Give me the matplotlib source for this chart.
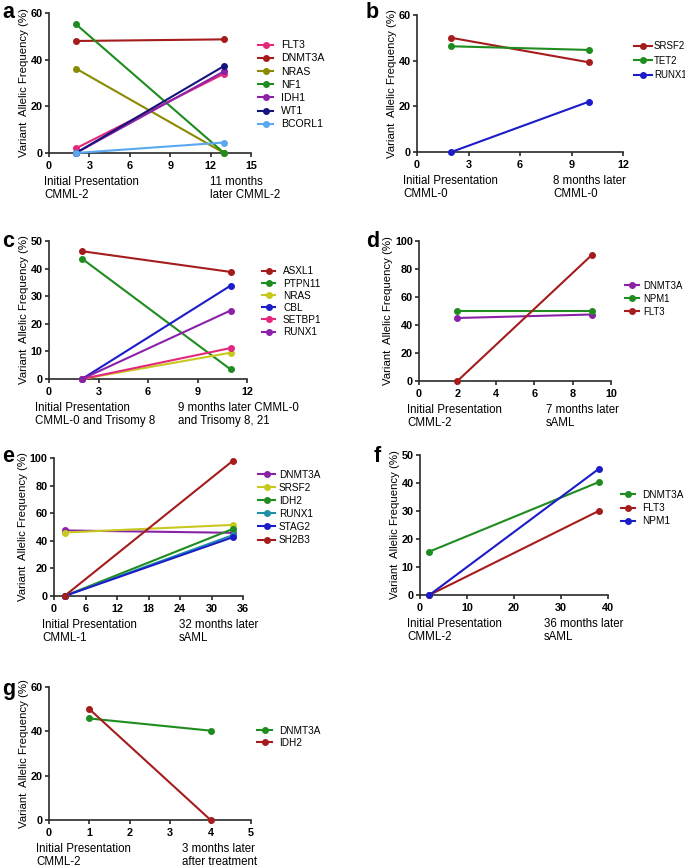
import matplotlib
matplotlib.use("Agg")
import matplotlib.pyplot as plt

plt.rcParams['font.family'] = ['Liberation Sans', 'DejaVu Sans']

W, H = 685, 866

DRED = '#a51c1c'
GREEN = '#1f8c1f'
PINK = '#e4287c'
OLIVE = '#8c8a00'
PURPLE = '#8a22a8'
NAVY = '#14147c'
LBLUE = '#5aa8f0'
BLUE = '#1c1cc8'
YELLOW = '#c8c81e'
TEAL = '#2090a8'

# panel a
a_x = [2, 13]
a_genes = ['FLT3', 'DNMT3A', 'NRAS', 'NF1', 'IDH1', 'WT1', 'BCORL1']
a_vals = [[2, 34], [48, 48.7], [36.2, 0], [55.2, 0], [0, 35], [0, 37.3], [0, 4.5]]
a_cols = [PINK, DRED, OLIVE, GREEN, PURPLE, NAVY, LBLUE]

# panel b
b_x = [2, 10]
b_genes = ['SRSF2', 'TET2', 'RUNX1']
b_vals = [[50, 39.3], [46.3, 44.7], [0, 22]]
b_cols = [DRED, GREEN, BLUE]

# panel c
c_x = [2, 11]
c_genes = ['ASXL1', 'PTPN11', 'NRAS', 'CBL', 'SETBP1', 'RUNX1']
c_vals = [[46.3, 38.8], [43.6, 3.5], [0, 9.5], [0, 33.8], [0, 11.2], [0, 24.8]]
c_cols = [DRED, GREEN, YELLOW, BLUE, PINK, PURPLE]

# panel d
d_x = [2, 9]
d_genes = ['DNMT3A', 'NPM1', 'FLT3']
d_vals = [[45, 47.5], [50, 50], [0, 90]]
d_cols = [PURPLE, GREEN, DRED]

# panel e
e_x = [2, 34]
e_genes = ['DNMT3A', 'SRSF2', 'IDH2', 'RUNX1', 'STAG2', 'SH2B3']
e_vals = [[47.5, 45.8], [46, 51.5], [0, 48.5], [0, 44], [0, 42.5], [0, 97.8]]
e_cols = [PURPLE, YELLOW, GREEN, TEAL, BLUE, DRED]

# panel f
f_x = [2, 38]
f_genes = ['DNMT3A', 'FLT3', 'NPM1']
f_vals = [[15.5, 40.3], [0, 30], [0, 45]]
f_cols = [GREEN, DRED, BLUE]

# panel g
g_x = [1, 4]
g_genes = ['DNMT3A', 'IDH2']
g_vals = [[45.8, 40.3], [50, 0]]
g_cols = [GREEN, DRED]

fig = plt.figure(figsize=(W / 100, H / 100), dpi=100)
PT = 0.72  # points per pixel at 100 dpi


def add_ax(x0, y0, x1, y1):
    return fig.add_axes([x0 / W, 1 - y1 / H, (x1 - x0) / W, (y1 - y0) / H])


def panel(rect, letter, letter_xy, xs, genes, vals, cols, xlim, xticks, ylim, yticks,
          left_txt, left_off, right_txt, right_frac, leg, leg_fs=7.2):
    ax = add_ax(*rect)
    for g, v, c in zip(genes, vals, cols):
        ax.plot(xs, v, '-o', color=c, lw=1.5, ms=4, label=g, clip_on=False, zorder=3)
    ax.set_xlim(*xlim)
    ax.set_ylim(*ylim)
    ax.set_xticks(xticks)
    ax.set_yticks(yticks)
    for s in ['top', 'right']:
        ax.spines[s].set_visible(False)
    for s in ['left', 'bottom']:
        ax.spines[s].set_linewidth(1.2)
        ax.spines[s].set_color('#2a2a2a')
    ax.tick_params(direction='out', length=3, width=1.2, color='#2a2a2a',
                   labelsize=7.8)
    ax.tick_params(axis='x', pad=2.5)
    ax.tick_params(axis='y', pad=1.5)
    for lab in ax.get_xticklabels() + ax.get_yticklabels():
        lab.set_fontweight('bold')
    ax.set_ylabel('Variant  Allelic Frequency (%)', fontsize=8.2, labelpad=1.5)
    ax.annotate(left_txt, xy=(0, 0), xycoords='axes fraction', xytext=(left_off * PT, -16.3),
                textcoords='offset points', ha='left', va='top', fontsize=8.3,
                linespacing=1.1)
    ax.annotate(right_txt, xy=(right_frac, 0), xycoords='axes fraction', xytext=(0, -16.3),
                textcoords='offset points', ha='left', va='top', fontsize=8.3,
                linespacing=1.1)
    fig.text(letter_xy[0] / W, 1 - letter_xy[1] / H, letter, fontsize=15.5,
             fontweight='bold', ha='left', va='baseline')
    # legend: handle x, first row y, handle length, text x, row spacing (pixels)
    hx, hy, hl, tx, sp = leg
    row_h = 0.9 * leg_fs
    ax.legend(loc='upper left',
              bbox_to_anchor=(hx / W, 1 - (hy - row_h / PT / 2) / H),
              bbox_transform=fig.transFigure, frameon=False, fontsize=leg_fs,
              handlelength=hl * PT / leg_fs,
              handletextpad=(tx - hx - hl) * PT / leg_fs,
              labelspacing=(sp * PT - row_h) / leg_fs,
              borderpad=0, borderaxespad=0)
    return ax


panel((49, 13, 251, 153), 'a', (2, 18), a_x, a_genes, a_vals, a_cols, (0, 15),
      [0, 3, 6, 9, 12, 15], (0, 60), [0, 20, 40, 60],
      'Initial Presentation\nCMML-2', -5, '11 months\nlater CMML-2', 0.797,
      (258, 45, 15, 281, 12.7), 7.6)

panel((417, 15, 623, 152), 'b', (366, 18), b_x, b_genes, b_vals, b_cols, (0, 12),
      [0, 3, 6, 9, 12], (0, 60), [0, 20, 40, 60],
      'Initial Presentation\nCMML-0', -14, '8 months later\nCMML-0', 0.66,
      (634, 45.5, 18, 654, 13), 6.9)

panel((49, 241, 247, 379), 'c', (2, 247), c_x, c_genes, c_vals, c_cols, (0, 12),
      [0, 3, 6, 9, 12], (0, 50), [0, 10, 20, 30, 40, 50],
      'Initial Presentation\nCMML-0 and Trisomy 8', -14,
      '9 months later CMML-0\nand Trisomy 8, 21', 0.65,
      (262, 271, 13, 283, 11.1))

panel((419, 241, 611, 381), 'd', (366, 247), d_x, d_genes, d_vals, d_cols, (0, 10),
      [0, 2, 4, 6, 8, 10], (0, 100), [0, 20, 40, 60, 80, 100],
      'Initial Presentation\nCMML-2', -12, '7 months later\nsAML', 0.66,
      (625, 285, 14, 643, 11.7), 6.9)

panel((54, 458, 243, 596), 'e', (2, 462), e_x, e_genes, e_vals, e_cols, (0, 36),
      [0, 6, 12, 18, 24, 30, 36], (0, 100), [0, 20, 40, 60, 80, 100],
      'Initial Presentation\nCMML-1', -12, '32 months later\nsAML', 0.66,
      (258, 474, 17, 279, 12.1))

panel((420, 455, 608, 595), 'f', (374, 462), f_x, f_genes, f_vals, f_cols, (0, 40),
      [0, 10, 20, 30, 40], (0, 50), [0, 10, 20, 30, 40, 50],
      'Initial Presentation\nCMML-2', -13, '36 months later\nsAML', 0.66,
      (621, 494, 14, 642, 12.5))

panel((49, 687, 251, 820), 'g', (2, 695), g_x, g_genes, g_vals, g_cols, (0, 5),
      [0, 1, 2, 3, 4, 5], (0, 60), [0, 20, 40, 60],
      'Initial Presentation\nCMML-2', -13, '3 months later\nafter treatment', 0.66,
      (257, 730, 15, 279, 11))

fig.savefig('out.png', dpi=100)
